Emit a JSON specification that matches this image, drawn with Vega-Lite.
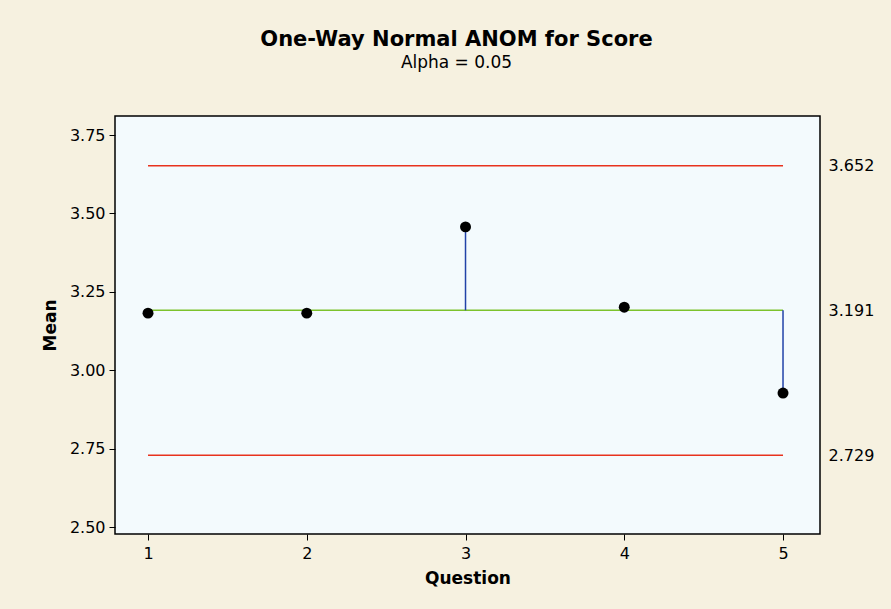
{
  "$schema": "https://vega.github.io/schema/vega-lite/v6.json",
  "width": 705,
  "height": 418,
  "autosize": {"type": "none"},
  "padding": {"left": 115, "top": 116, "right": 71, "bottom": 75},
  "background": "#f6f1e0",
  "title": {
    "text": "One-Way Normal ANOM for Score",
    "subtitle": "Alpha = 0.05",
    "anchor": "middle",
    "dx": -11,
    "offset": 45,
    "font": "DejaVu Sans",
    "fontSize": 21,
    "fontWeight": "bold",
    "color": "#000000",
    "subtitleFont": "DejaVu Sans",
    "subtitleFontSize": 17,
    "subtitleColor": "#000000",
    "subtitlePadding": 5
  },
  "config": {
    "view": {"fill": "#f3fafd", "stroke": "#000000", "strokeWidth": 1.5},
    "axis": {
      "labelFont": "DejaVu Sans",
      "labelFontSize": 16,
      "labelColor": "#000000",
      "titleFont": "DejaVu Sans",
      "titleFontSize": 17,
      "titleFontWeight": "bold",
      "titleColor": "#000000",
      "tickColor": "#000000",
      "domainColor": "#000000",
      "grid": false
    }
  },
  "datasets": {
    "means": [
      {"Question": 1, "Mean": 3.182, "Center": 3.191},
      {"Question": 2, "Mean": 3.182, "Center": 3.191},
      {"Question": 3, "Mean": 3.457, "Center": 3.191},
      {"Question": 4, "Mean": 3.201, "Center": 3.191},
      {"Question": 5, "Mean": 2.927, "Center": 3.191}
    ],
    "limits": [
      {"line": "UDL", "value": 3.652, "from": 1, "to": 5},
      {"line": "Center", "value": 3.191, "from": 1, "to": 5},
      {"line": "LDL", "value": 2.729, "from": 1, "to": 5}
    ]
  },
  "layer": [
    {
      "data": {"name": "limits"},
      "mark": {"type": "rule", "strokeWidth": 1.5},
      "encoding": {
        "x": {
          "field": "from",
          "type": "quantitative",
          "scale": {"domain": [0.792, 5.233], "nice": false, "zero": false},
          "axis": {
            "title": "Question",
            "values": [1, 2, 3, 4, 5],
            "format": "d",
            "tickSize": 6,
            "labelPadding": 5,
            "titlePadding": 9,
            "domain": false
          }
        },
        "x2": {"field": "to"},
        "y": {
          "field": "value",
          "type": "quantitative",
          "scale": {"domain": [2.4777, 3.8106], "nice": false, "zero": false},
          "axis": {
            "title": "Mean",
            "values": [2.5, 2.75, 3.0, 3.25, 3.5, 3.75],
            "format": ".2f",
            "tickSize": 6,
            "labelPadding": 4,
            "titlePadding": 10,
            "domain": false
          }
        },
        "color": {
          "field": "line",
          "type": "nominal",
          "scale": {"domain": ["UDL", "Center", "LDL"], "range": ["#e8321e", "#7cc22c", "#e8321e"]},
          "legend": null
        }
      }
    },
    {
      "data": {"name": "limits"},
      "mark": {"type": "rule", "opacity": 0},
      "encoding": {
        "y": {
          "field": "value",
          "type": "quantitative",
          "scale": {"domain": [2.4777, 3.8106], "nice": false, "zero": false},
          "axis": {
            "orient": "right",
            "title": null,
            "values": [2.729, 3.191, 3.652],
            "format": ".3f",
            "ticks": false,
            "domain": false,
            "labelPadding": 8
          }
        }
      }
    },
    {
      "data": {"name": "means"},
      "mark": {"type": "rule", "color": "#2142a8", "strokeWidth": 1.5},
      "encoding": {
        "x": {"field": "Question", "type": "quantitative"},
        "y": {
          "field": "Mean",
          "type": "quantitative",
          "scale": {"domain": [2.4777, 3.8106], "nice": false, "zero": false},
          "axis": null
        },
        "y2": {"field": "Center"}
      }
    },
    {
      "data": {"name": "means"},
      "mark": {"type": "point", "filled": true, "color": "#000000", "opacity": 1, "size": 120},
      "encoding": {
        "x": {"field": "Question", "type": "quantitative"},
        "y": {
          "field": "Mean",
          "type": "quantitative",
          "scale": {"domain": [2.4777, 3.8106], "nice": false, "zero": false},
          "axis": null
        }
      }
    }
  ],
  "resolve": {"scale": {"y": "independent"}, "axis": {"y": "independent"}}
}
